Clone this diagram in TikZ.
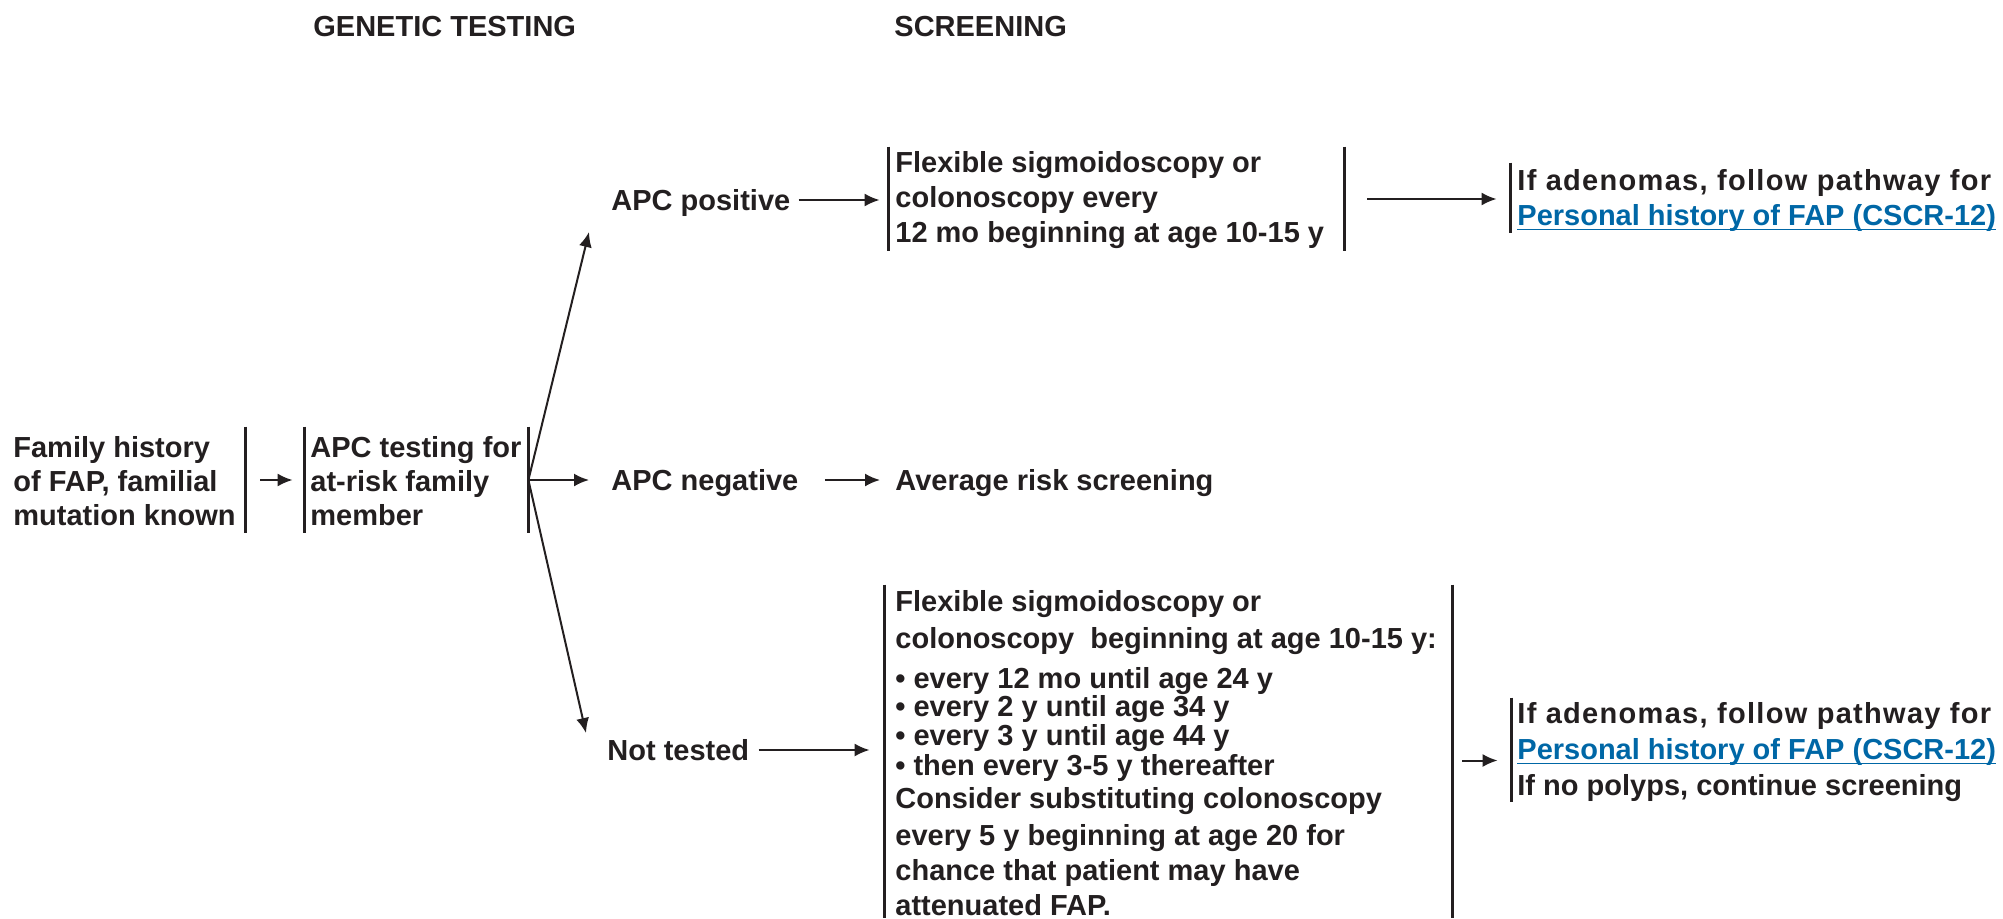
\documentclass[tikz,border=0pt]{standalone}
\usepackage{fontspec}
\setmainfont{Liberation Sans}
\usetikzlibrary{arrows.meta,calc}
\definecolor{ink}{RGB}{35,31,32}
\definecolor{linkblue}{RGB}{0,103,166}
% fixed first-line height so a block's north edge sits a known distance above its first baseline
\newcommand\lnstrut{\rule{0pt}{11pt}}
% underlined cross-reference
\newcommand\lnk[1]{{\color{linkblue}\setbox0\hbox{#1}\rlap{\rule[-2.4pt]{\wd0}{0.8pt}}\box0}}
\newcommand\wide[1]{{\addfontfeature{LetterSpace=4.5}#1}}
\begin{document}
\begin{tikzpicture}[x=0.5pt,y=-0.5pt,
  every node/.style={text=ink, font=\fontsize{14.5}{17}\selectfont\bfseries},
  lbl/.style={inner sep=0pt, anchor=west, text height=11pt, text depth=1pt},
  blk/.style={inner sep=0pt, anchor=north west, align=left},
  frame/.style={inner sep=0pt, draw=none},
  bar/.style={draw=ink, line width=1.2pt},
  arr/.style={draw=ink, line width=1pt, -{Latex[length=7.5pt,width=6.5pt]}},
]
\useasboundingbox (0,0) rectangle (2003,918);

% bracket frames
\node[frame, minimum width=118.5pt, minimum height=53pt]   (famB)  at (126.5,480)  {};
\node[frame, minimum width=111.5pt, minimum height=53pt]   (testB) at (416.5,480)  {};
\node[frame, minimum width=227.5pt, minimum height=52pt]   (s1B)   at (1116.5,199) {};
\node[frame, minimum width=244.5pt, minimum height=35pt]   (r1B)   at (1755.5,198) {};
\node[frame, minimum width=283.5pt, minimum height=166.5pt](s3B)   at (1168.5,751.5) {};
\node[frame, minimum width=244pt,   minimum height=52pt]   (r3B)   at (1756,750)   {};

\draw[bar] (famB.north east)  -- (famB.south east);
\draw[bar] (testB.north west) -- (testB.south west);
\draw[bar] (testB.north east) -- (testB.south east);
\draw[bar] (s1B.north west)   -- (s1B.south west);
\draw[bar] (s1B.north east)   -- (s1B.south east);
\draw[bar] (r1B.north west)   -- (r1B.south west);
\draw[bar] (s3B.north west)   -- (s3B.south west);
\draw[bar] (s3B.north east)   -- (s3B.south east);
\draw[bar] (r3B.north west)   -- (r3B.south west);

% column headings
\node[lbl] (hdrG) at (313,26) {GENETIC TESTING};
\node[lbl] (hdrS) at (894,26) {SCREENING};

% texts
\node[blk, font=\fontsize{14.5}{17}\selectfont\bfseries] (famT) at (13,435)
  {\lnstrut Family history\\of FAP, familial\\mutation known};
\node[blk, font=\fontsize{14.5}{17}\selectfont\bfseries] (testT) at (310,435)
  {\lnstrut APC testing for\\at-risk family\\member};

\node[lbl] (posT) at (611,200) {APC positive};
\node[lbl] (negT) at (611,480) {APC negative};
\node[lbl] (avgT) at (895,480) {Average risk screening};
\node[lbl] (ntT)  at (607,750) {Not tested};

\node[blk, font=\fontsize{14.5}{17.5}\selectfont\bfseries] (s1T) at (895,150)
  {\lnstrut Flexible sigmoidoscopy or\\colonoscopy every\\12 mo beginning at age 10-15 y};
\node[blk, font=\fontsize{14.5}{17.5}\selectfont\bfseries] (r1T) at (1517,168)
  {\lnstrut\wide{If adenomas, follow pathway for}\\\lnk{Personal history of FAP (CSCR-12)}};

\node[blk, font=\fontsize{14.5}{14}\selectfont\bfseries] (s3T) at (895,589)
  {\lnstrut Flexible sigmoidoscopy or\\[4.5pt]
   colonoscopy\ \ beginning at age 10-15 y:\\[6pt]
   • every 12 mo until age 24 y\\
   • every 2 y until age 34 y\\[0.5pt]
   • every 3 y until age 44 y\\[1pt]
   • then every 3-5 y thereafter\\[2.5pt]
   Consider substituting colonoscopy\\[4.5pt]
   every 5 y beginning at age 20 for\\[3.5pt]
   chance that patient may have\\[3.5pt]
   attenuated FAP.};
\node[blk, font=\fontsize{14.5}{18}\selectfont\bfseries] (r3T) at (1517,701)
  {\lnstrut\wide{If adenomas, follow pathway for}\\\lnk{Personal history of FAP (CSCR-12)}\\If no polyps, continue screening};

% connectors
\draw[arr, shorten <=7.5pt, shorten >=6pt] (famB.east) -- (testB.west);
\draw[arr] (testB.east) -- ($(posT.west)+(-22,32)$);
\draw[arr, shorten >=11pt] (testB.east) -- (negT.west);
\draw[arr] (testB.east) -- ($(ntT.west)+(-21,-17)$);
\draw[arr, shorten <=4pt, shorten >=4.5pt] (posT.east) -- (posT.east -| s1B.west);
\draw[arr, shorten <=11.5pt, shorten >=7pt] (s1B.east) -- (s1B.east -| r1B.west);
\draw[arr, shorten <=13pt, shorten >=7.5pt] (negT.east) -- (avgT.west);
\draw[arr, shorten <=4.5pt, shorten >=7.5pt] (ntT.east) -- (ntT.east -| s3B.west);
\draw[arr, shorten <=5pt, shorten >=7pt] ([yshift=-4.5pt]s3B.east) -- ([yshift=-4.5pt]s3B.east -| r3B.west);
\end{tikzpicture}
\end{document}
